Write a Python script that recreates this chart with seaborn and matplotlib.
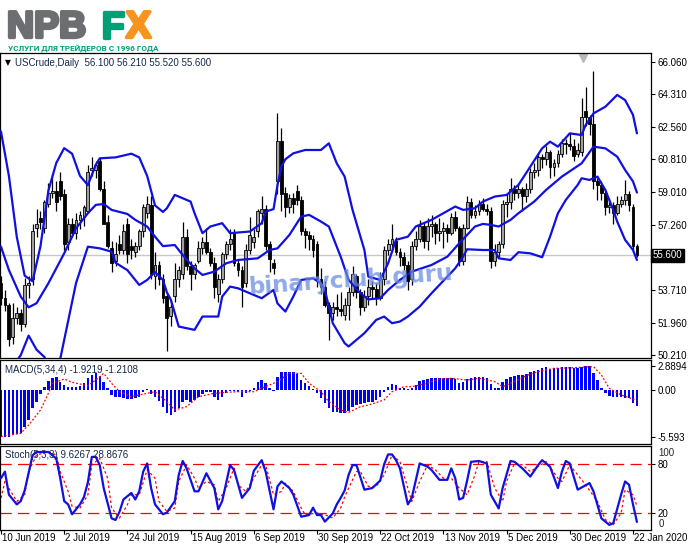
import matplotlib
matplotlib.use("Agg")
import matplotlib.pyplot as plt
import matplotlib.transforms as mtransforms
import matplotlib.patheffects as pe
import seaborn as sns

# ---- price data, one value per daily bar (10 Jun 2019 .. 23 Jan 2020)
opens = [54.1, 53.3, 52.9, 51.2, 52.2, 52.5, 51.9, 54.0, 54.3, 57.1,
         57.6, 57.1, 58.4, 59.0, 59.1, 59.6, 58.9, 56.3, 57.3, 56.8,
         57.5, 57.7, 58.0, 60.2, 60.2, 60.7, 59.2, 57.4, 56.0, 55.3,
         56.2, 55.9, 57.3, 56.1, 55.8, 56.1, 56.9, 57.9, 58.3, 54.5,
         55.1, 54.3, 53.4, 52.3, 53.4, 54.3, 54.6, 56.6, 55.0, 54.6,
         55.3, 56.0, 56.3, 55.8, 55.2, 53.5, 54.3, 55.7, 56.2, 56.8,
         55.2, 54.8, 54.1, 55.9, 56.3, 56.9, 57.9, 58.1, 56.2, 55.2,
         59.6, 61.8, 59.0, 58.2, 58.7, 59.1, 58.6, 56.9, 56.7, 56.5,
         56.2, 54.3, 53.9, 52.9, 52.5, 52.8, 52.7, 52.4, 52.9, 53.6,
         54.5, 53.6, 52.8, 53.4, 53.9, 53.8, 53.3, 54.3, 55.9, 56.2,
         56.4, 55.8, 55.5, 55.1, 54.3, 56.1, 56.5, 57.2, 56.4, 57.2,
         57.3, 56.8, 56.9, 57.1, 56.8, 57.7, 57.1, 55.3, 57.1, 58.5,
         57.8, 58.0, 58.4, 58.1, 58.0, 55.3, 55.8, 56.2, 58.4, 58.5,
         59.2, 59.0, 59.2, 58.8, 59.2, 60.1, 60.2, 60.9, 60.8, 61.2,
         60.4, 60.6, 61.1, 61.7, 61.6, 61.5, 61.1, 61.2, 63.4, 63.1,
         62.7, 59.6, 59.4, 59.0, 58.2, 58.3, 57.9, 58.4, 58.6, 58.9,
         58.2, 56.10]
highs = [54.5, 53.7, 53.0, 53.0, 52.8, 52.7, 54.4, 54.5, 57.3, 58.1,
         58.0, 58.6, 59.5, 60.0, 59.6, 60.1, 59.2, 57.6, 57.6, 57.9,
         58.0, 58.3, 60.5, 60.9, 60.7, 60.9, 59.6, 57.8, 56.4, 56.3,
         56.7, 57.3, 57.6, 56.5, 56.3, 57.0, 58.4, 58.8, 58.8, 55.8,
         55.3, 54.6, 53.6, 53.2, 55.2, 55.0, 57.4, 57.0, 55.3, 55.2,
         56.4, 56.6, 57.1, 56.0, 55.5, 54.6, 55.8, 56.4, 57.0, 57.0,
         55.4, 55.0, 56.2, 57.7, 57.0, 58.1, 58.8, 58.3, 56.4, 55.4,
         63.3, 62.5, 59.3, 58.9, 59.0, 59.4, 58.8, 57.1, 56.9, 56.7,
         56.4, 54.9, 54.2, 53.1, 53.1, 53.5, 53.6, 53.3, 53.9, 55.0,
         54.6, 53.8, 53.7, 54.3, 54.2, 54.1, 54.7, 56.1, 56.5, 57.3,
         56.6, 56.0, 55.8, 55.3, 56.4, 56.9, 57.5, 57.4, 57.6, 57.8,
         57.4, 57.6, 57.4, 57.3, 57.9, 58.0, 57.2, 57.3, 58.8, 58.7,
         58.3, 58.6, 58.7, 58.4, 58.2, 56.2, 56.4, 58.6, 59.0, 59.8,
         59.4, 59.5, 59.3, 59.5, 60.3, 60.6, 61.1, 61.1, 61.5, 61.3,
         60.8, 61.3, 61.9, 61.9, 62.2, 61.9, 61.7, 64.1, 64.7, 63.2,
         65.6, 59.8, 59.6, 59.2, 58.7, 58.5, 58.8, 58.8, 59.7, 59.1,
         58.4, 56.21]
lows = [52.9, 52.6, 50.7, 50.8, 51.9, 51.5, 51.7, 53.3, 54.0, 56.6,
        57.0, 56.8, 58.2, 58.7, 58.0, 58.6, 55.9, 55.9, 56.6, 56.5,
        57.0, 57.2, 57.9, 59.9, 59.8, 59.1, 57.3, 56.0, 54.7, 55.0,
        55.7, 55.7, 55.2, 55.4, 55.5, 55.9, 56.6, 57.6, 54.3, 53.8,
        54.0, 53.0, 50.4, 51.8, 53.1, 53.9, 54.3, 54.8, 53.7, 54.3,
        55.2, 55.7, 55.7, 55.0, 53.3, 53.1, 54.1, 55.4, 55.9, 55.0,
        54.5, 52.8, 53.9, 55.7, 56.0, 56.6, 57.3, 55.9, 54.7, 54.6,
        58.9, 58.0, 57.7, 57.9, 57.9, 58.3, 56.7, 56.0, 55.9, 55.5,
        53.9, 53.5, 52.8, 51.0, 52.1, 52.3, 52.3, 52.1, 52.1, 53.4,
        53.3, 52.4, 52.6, 52.9, 53.3, 52.9, 53.2, 54.0, 55.6, 55.8,
        55.6, 55.0, 54.8, 53.7, 54.0, 55.9, 56.3, 56.0, 55.9, 56.6,
        56.2, 56.4, 56.0, 56.3, 56.7, 56.9, 55.0, 55.1, 57.0, 57.6,
        57.6, 57.8, 58.0, 57.8, 54.9, 55.0, 55.5, 56.0, 57.7, 58.1,
        58.6, 58.7, 58.0, 58.5, 59.0, 59.8, 59.9, 60.3, 60.5, 59.8,
        59.9, 60.4, 60.9, 61.1, 61.3, 60.7, 60.9, 61.0, 62.6, 62.1,
        59.2, 58.6, 58.6, 57.8, 57.9, 57.3, 57.8, 58.2, 58.3, 58.0,
        55.9, 55.52]
closes = [53.3, 52.9, 51.1, 52.2, 52.5, 51.9, 54.0, 54.1, 56.9, 57.3,
          57.4, 58.5, 59.0, 59.1, 58.5, 58.8, 56.2, 57.3, 56.8, 57.5,
          57.8, 58.2, 60.1, 60.3, 60.5, 59.2, 57.3, 56.1, 55.2, 55.7,
          55.9, 56.9, 55.7, 55.9, 56.1, 56.9, 58.2, 58.4, 54.6, 55.1,
          54.3, 53.3, 52.2, 52.8, 54.3, 54.8, 56.6, 55.0, 54.6, 55.1,
          56.0, 56.3, 55.8, 55.2, 53.9, 54.3, 55.7, 56.2, 56.5, 55.2,
          54.8, 53.9, 55.9, 56.7, 56.6, 58.0, 58.1, 56.1, 55.4, 54.9,
          61.8, 58.9, 58.2, 58.7, 58.4, 58.6, 56.9, 56.7, 56.5, 55.9,
          54.3, 53.9, 52.9, 52.5, 52.8, 52.7, 52.6, 52.9, 53.6, 54.6,
          53.6, 52.8, 53.4, 53.9, 53.8, 53.3, 54.3, 55.9, 56.2, 56.5,
          55.8, 55.5, 55.1, 54.2, 56.1, 56.5, 57.2, 56.4, 57.2, 57.3,
          56.8, 56.9, 57.1, 56.8, 57.7, 57.1, 55.3, 57.1, 58.5, 57.8,
          58.0, 58.4, 58.1, 58.0, 55.3, 55.8, 56.2, 58.4, 58.5, 59.2,
          59.0, 59.2, 58.8, 59.2, 60.1, 60.2, 60.9, 60.8, 61.2, 60.4,
          60.6, 61.1, 61.7, 61.6, 61.5, 61.0, 61.3, 63.1, 63.1, 62.7,
          59.6, 59.4, 59.0, 58.2, 58.3, 57.9, 58.4, 58.6, 58.9, 58.3,
          56.1, 55.60]

# Bollinger bands: (bar, value)
bb_upper = [(0, 62.3), (2, 59.9), (4, 56.6), (6, 54.5), (8, 54.2), (10, 56.1),
            (12, 59.1), (14, 60.6), (16, 61.4), (18, 61.1), (20, 59.9), (22, 59.4),
            (24, 60.5), (25, 60.85), (29, 60.9), (33, 61.1), (35, 60.9), (37, 59.9),
            (39, 58.3), (41, 57.95), (42, 58.15), (44, 58.87), (48, 58.51), (49, 57.88),
            (51, 56.8), (53, 57.16), (56, 57.34), (58, 56.8), (63, 56.89), (66, 57.34),
            (67, 57.97), (69, 58.1), (70, 59.4), (71, 60.4), (72, 60.8), (74, 61.12),
            (77, 61.3), (81, 61.3), (83, 61.66), (85, 60.58), (87, 59.86), (89, 58.06),
            (92, 55.89), (93, 54.45), (96, 54.27), (98, 55.17), (100, 56.44), (103, 56.61),
            (105, 57.16), (109, 57.52), (115, 58.24), (117, 58.06), (120, 58.15),
            (122, 58.51), (125, 58.78), (128, 58.87), (131, 59.41), (134, 60.4),
            (137, 61.39), (139, 61.75), (141, 61.48), (144, 62.2), (147, 62.11),
            (148, 62.65), (150, 63.28), (153, 63.64), (156, 64.28), (158, 64.0),
            (160, 63.2), (161, 62.2)]
bb_middle = [(0, 56.07), (2, 54.81), (5, 53.37), (7, 52.79), (9, 53.01), (12, 54.09),
             (16, 55.71), (19, 57.06), (22, 57.88), (24, 58.33), (26, 58.38), (28, 58.06),
             (32, 57.84), (34, 57.52), (37, 57.16), (39, 56.61), (41, 56.1), (44, 56.16),
             (46, 55.62), (49, 54.9), (51, 54.54), (54, 54.72), (57, 55.17), (60, 55.35),
             (65, 55.44), (68, 55.89), (70, 55.98), (73, 56.7), (76, 57.7), (78, 57.79),
             (81, 57.43), (83, 57.16), (86, 55.53), (88, 54.27), (91, 53.55), (93, 53.22),
             (96, 53.28), (98, 53.73), (101, 54.27), (104, 54.72), (109, 55.08),
             (113, 55.53), (116, 56.25), (120, 57.16), (122, 57.3), (124, 57.25),
             (126, 57.16), (129, 57.52), (131, 57.88), (135, 58.51), (138, 59.14),
             (142, 59.86), (147, 60.58), (150, 61.48), (153, 61.39), (156, 60.94),
             (158, 60.22), (160, 59.6), (161, 59.0)]
bb_lower = [(0, 49.5), (4, 49.9), (5, 50.2), (7, 51.26), (9, 50.5), (11, 50.1),
            (13, 49.0), (15, 50.0), (19, 54.1), (22, 56.07), (25, 55.98), (28, 55.8),
            (29, 55.2), (32, 54.8), (35, 54.0), (37, 54.27), (39, 54.7), (41, 54.27),
            (42, 53.6), (43, 53.2), (45, 51.75), (49, 51.57), (51, 52.29), (55, 52.29),
            (56, 53.37), (58, 53.91), (60, 53.82), (66, 53.28), (69, 53.73), (70, 53.0),
            (72, 52.56), (74, 53.37), (76, 54.27), (79, 54.36), (81, 54.09), (82, 53.73),
            (84, 51.93), (87, 50.85), (88, 50.67), (92, 51.39), (95, 52.11), (97, 52.29),
            (99, 51.93), (101, 52.02), (103, 52.29), (106, 52.83), (109, 53.55),
            (113, 54.45), (115, 54.9), (117, 55.53), (118, 55.93), (122, 55.89),
            (125, 55.89), (126, 55.44), (129, 55.35), (131, 55.77), (134, 55.71),
            (137, 55.5), (139, 56.61), (141, 57.88), (143, 58.6), (146, 59.41),
            (147, 59.77), (149, 59.68), (151, 59.86), (153, 59.14), (155, 58.06),
            (156, 57.43), (158, 56.44), (160, 55.89), (161, 55.35)]

# MACD(5,34,4) histogram, one value per bar
macd_hist = [-5.52, -5.59, -5.52, -5.33, -5.25, -5.13, -4.34, -3.55, -2.17, -1.38,
             -0.51, 0.39, 1.07, 1.38, 1.50, 0.91, 0.59, 0.39, 0.32, 0.39,
             0.51, 0.79, 1.38, 1.78, 1.97, 1.70, 0.99, 0.20, -0.59, -0.79,
             -0.87, -0.91, -1.07, -1.07, -0.99, -0.79, -0.28, 0.12, -0.51, -0.79,
             -1.30, -1.97, -2.76, -2.96, -2.64, -2.17, -1.38, -1.18, -1.38, -1.18,
             -0.79, -0.51, -0.28, -0.20, -0.79, -1.18, -0.79, -0.39, -0.12, -0.12,
             -0.28, -0.79, -0.39, -0.12, 0.28, 0.99, 1.18, 0.79, 0.20, -0.12,
             1.58, 2.09, 2.17, 2.09, 2.09, 1.85, 1.18, 0.79, 0.47, 0.12,
             -0.39, -0.99, -1.58, -2.17, -2.56, -2.64, -2.76, -2.72, -2.49, -1.97,
             -1.78, -1.70, -1.58, -1.46, -1.38, -1.18, -0.79, -0.20, 0.39, 0.67,
             0.59, 0.28, 0.20, 0.12, 0.28, 0.59, 1.07, 1.18, 1.30, 1.46,
             1.46, 1.46, 1.46, 1.46, 1.38, 1.30, 0.79, 0.99, 1.30, 1.46,
             1.58, 1.58, 1.58, 1.46, 0.67, 0.28, 0.20, 0.91, 1.30, 1.58,
             1.70, 1.78, 1.78, 1.85, 2.09, 2.25, 2.37, 2.56, 2.76, 2.49,
             2.56, 2.64, 2.72, 2.76, 2.76, 2.64, 2.64, 2.76, 2.85, 2.89,
             1.97, 1.18, 0.28, -0.39, -0.67, -0.79, -0.79, -0.79, -0.91, -0.99,
             -1.50, -1.92]
macd_signal = [(0, -5.5), (5, -5.13), (7, -4.14), (10, -2.37), (12, -0.39), (13, 0.79),
               (16, 1.30), (18, 0.91), (22, 0.51), (24, 1.18), (26, 1.97), (28, 0.79),
               (30, -0.20), (33, -0.79), (37, -0.39), (39, -0.20), (42, -1.38), (44, -2.37),
               (47, -1.97), (50, -0.79), (54, -0.39), (57, -0.28), (60, -0.20), (64, -0.20),
               (66, 0.20), (70, 0.99), (73, 1.97), (76, 1.97), (78, 0.79), (81, -0.20),
               (83, -1.38), (86, -2.37), (88, -2.65), (91, -1.97), (93, -1.78), (97, -1.18),
               (99, -0.20), (102, 0.39), (104, 0.39), (108, 0.79), (111, 1.30), (114, 1.38),
               (118, 1.18), (121, 1.38), (125, 0.99), (127, 0.39), (130, 0.99), (133, 1.70),
               (136, 2.17), (140, 2.56), (145, 2.64), (150, 2.76), (152, 1.78), (154, 0.20),
               (157, -0.59), (159, -0.91), (161, -1.21)]

# Stochastic(5,3,3) main and signal lines
stoch_k = [(0, 63), (1, 71), (2, 43), (4, 31), (5, 35), (6, 48), (8, 91), (9, 95),
           (12, 95), (14, 87), (15, 63), (16, 35), (17, 31), (18, 19), (20, 31), (21, 40),
           (22, 58), (23, 89), (24, 89), (25, 79), (26, 51), (28, 14), (29, 12), (30, 22),
           (31, 37), (33, 45), (34, 37), (35, 47), (36, 71), (37, 81), (38, 51), (39, 31),
           (41, 19), (42, 21), (44, 35), (45, 67), (46, 84), (47, 75), (49, 47), (50, 47),
           (52, 69), (54, 51), (55, 25), (56, 35), (58, 79), (59, 73), (61, 39), (63, 51),
           (64, 72), (66, 85), (67, 71), (69, 25), (70, 53), (71, 59), (73, 51), (74, 43),
           (76, 16), (78, 18), (79, 27), (80, 18), (81, 18), (82, 10), (84, 20), (85, 31),
           (86, 39), (87, 48), (88, 67), (89, 79), (90, 79), (92, 49), (94, 51), (96, 60),
           (97, 80), (98, 92), (99, 92), (100, 85), (101, 75), (103, 31), (104, 39),
           (106, 81), (108, 77), (109, 73), (111, 61), (113, 61), (114, 75), (115, 63),
           (116, 37), (117, 39), (118, 60), (119, 83), (121, 84), (123, 81), (124, 43),
           (126, 26), (127, 51), (129, 84), (130, 83), (132, 75), (134, 65), (136, 79),
           (137, 85), (139, 77), (141, 51), (142, 71), (143, 84), (144, 81), (146, 49),
           (149, 57), (150, 47), (152, 14), (154, 6), (155, 8), (157, 43), (158, 59),
           (159, 55), (160, 31), (161, 9.63)]
stoch_d = [(0, 38.7), (1, 59), (3, 42.8), (4, 34.7), (6, 42.8), (7, 71.1), (9, 91.3),
           (12, 95.4), (14, 91.3), (15, 71.1), (17, 46.8), (18, 28.6), (20, 26.6),
           (22, 42.8), (23, 79.2), (25, 87.3), (27, 63), (28, 26.6), (30, 14.4), (32, 30.6),
           (33, 42.8), (35, 42.8), (37, 73.1), (39, 63), (40, 34.7), (42, 22.5), (44, 26.6),
           (45, 59), (47, 79.2), (49, 63), (50, 50.9), (52, 59), (54, 54.9), (55, 34.7),
           (57, 50.9), (59, 75.2), (60, 54.9), (62, 46.8), (64, 63), (66, 79.2), (67, 79.2),
           (69, 42.8), (71, 46.8), (72, 56.9), (74, 46.8), (76, 26.6), (77, 18.4), (80, 20.5),
           (82, 18.4), (84, 14.4), (86, 26.6), (87, 40), (88, 50.9), (90, 71.1), (91, 71.1),
           (93, 52.9), (95, 52.9), (97, 67.1), (99, 91.3), (101, 83.3), (103, 50.9),
           (104, 34.7), (106, 59), (108, 79.2), (110, 73.1), (112, 63), (114, 63),
           (116, 50.9), (118, 42.8), (120, 67.1), (121, 83.3), (123, 83.3), (125, 50.9),
           (127, 34.7), (128, 59), (130, 81.3), (132, 79.2), (134, 71.1), (136, 77.2),
           (138, 83.3), (141, 63), (142, 59), (144, 79.2), (146, 67.1), (148, 54.9),
           (151, 34.7), (153, 12.4), (155, 6.3), (157, 20.5), (158, 48.8), (160, 42.8),
           (161, 28.87)]

date_labels = ["10 Jun 2019", "2 Jul 2019", "24 Jul 2019", "15 Aug 2019", "6 Sep 2019",
               "30 Sep 2019", "22 Oct 2019", "13 Nov 2019", "5 Dec 2019", "30 Dec 2019",
               "22 Jan 2020"]
date_bars = [0, 16, 32, 48, 64, 80, 96, 112, 128, 144, 160]
price_ticks = [66.060, 64.310, 62.560, 60.810, 59.010, 57.260, 53.710, 51.960, 50.210]
last_price = 55.600

sns.set_theme(style="white")
plt.rcParams["font.family"] = ["Liberation Sans", "DejaVu Sans"]
plt.rcParams["axes.linewidth"] = 0.9

W, H = 691, 549
fig = plt.figure(figsize=(W / 100, H / 100), dpi=100)
fig.patch.set_facecolor("white")


def px_axes(top, bottom):
    return fig.add_axes([0.0, 1 - bottom / H, 651 / W, (bottom - top) / H])


ax = px_axes(53, 358)
ax_m = px_axes(360, 444)
ax_s = px_axes(446, 530)

band_blue = "#1010e0"
red = "#ff0000"
xlim = (-0.25, 164.56)

for a in (ax, ax_m, ax_s):
    a.set_xlim(*xlim)
    a.set_facecolor("white")
    for s in a.spines.values():
        s.set_color("black")
        s.set_linewidth(0.9)
    a.yaxis.tick_right()
    a.tick_params(axis="y", direction="out", length=3, width=0.8, colors="black",
                  labelsize=7, pad=2, right=True, left=False)
    a.tick_params(axis="x", bottom=False, labelbottom=False)
    a.grid(False)

# ---- main price panel
ax.set_ylim(50.048, 66.547)
ax.axhline(last_price, color="#c8c8c8", lw=1.0, zorder=1)

bars = list(range(len(closes)))
for i in bars:
    o, h, l, c = opens[i], highs[i], lows[i], closes[i]
    ax.vlines(i, l, h, color="black", lw=0.9, zorder=2)
    body = max(abs(c - o), 0.04)
    face = "#a0a0a0" if c >= o else "black"
    ax.bar(i, body, bottom=min(o, c), width=0.72, color=face, edgecolor="black",
           linewidth=0.6, zorder=3)

for band in (bb_upper, bb_middle, bb_lower):
    bx, by = zip(*band)
    sns.lineplot(x=list(bx), y=list(by), ax=ax, color=band_blue, lw=1.6, zorder=4)

ax.set_yticks(price_ticks)
ax.set_yticklabels([f"{v:.3f}" for v in price_ticks])
ax.text(1.003, last_price, f"{last_price:.3f}",
        transform=mtransforms.blended_transform_factory(ax.transAxes, ax.transData),
        ha="left", va="center", fontsize=7, color="white",
        bbox=dict(boxstyle="square,pad=0.15", fc="black", ec="black"))
ax.plot([583 / 651], [0.985], marker="v", ms=6, color="#b8b8b8",
        transform=ax.transAxes, clip_on=False)
ax.set_xlabel("")
ax.set_ylabel("")

# ---- MACD panel
ax_m.set_ylim(-6.39, 3.55)
ax_m.bar(bars, macd_hist, width=0.62, color="#0000ff", linewidth=0,
         antialiased=False, zorder=2)
sx, sy = zip(*macd_signal)
sns.lineplot(x=list(sx), y=list(sy), ax=ax_m, color=red, lw=0.9,
             linestyle=(0, (1.5, 1.5)), zorder=3)
ax_m.set_yticks([2.8894, 0.0, -5.593])
ax_m.set_yticklabels(["2.8894", "0.00", "-5.593"])
ax_m.set_xlabel("")
ax_m.set_ylabel("")

# ---- Stochastic panel
ax_s.set_ylim(-0.24, 102.3)
for lvl in (80, 20):
    ax_s.axhline(lvl, color=red, lw=0.9, linestyle=(0, (9, 5)), zorder=1)
kx, ky = zip(*stoch_k)
dx, dy = zip(*stoch_d)
sns.lineplot(x=list(dx), y=list(dy), ax=ax_s, color=red, lw=0.9,
             linestyle=(0, (2, 2)), zorder=2)
sns.lineplot(x=list(kx), y=list(ky), ax=ax_s, color=band_blue, lw=1.6, zorder=3)
ax_s.set_yticks([80, 20])
ax_s.set_yticklabels(["80", "20"])
ax_s.text(1.012, 0.917, "100", transform=ax_s.transAxes, fontsize=7, va="center")
ax_s.text(1.012, 0.07, "0", transform=ax_s.transAxes, fontsize=7, va="center")
ax_s.set_xticks(date_bars)
ax_s.tick_params(axis="x", bottom=True, direction="out", length=3, width=0.8,
                 colors="black", labelbottom=False)
date_tr = mtransforms.blended_transform_factory(ax_s.transData, ax_s.transAxes)
for b, lab in zip(date_bars, date_labels):
    ax_s.text(b + 0.3, -0.03, lab, transform=date_tr, ha="left", va="top",
              fontsize=7, color="black", clip_on=False)
ax_s.set_xlabel("")
ax_s.set_ylabel("")


# ---- header texts
def fpx(x, y):
    return x / W, 1 - y / H


hdr = "#16284a"
fig.text(*fpx(5, 63), "\u25bc", fontsize=5.5, color="black", va="center",
         family=["DejaVu Sans"])
fig.text(*fpx(15, 63), "USCrude,Daily  56.100 56.210 55.520 55.600", fontsize=7,
         color=hdr, va="center")
fig.text(*fpx(5, 370), "MACD(5,34,4) -1.9219 -1.2108", fontsize=7, color=hdr, va="center")
fig.text(*fpx(5, 455), "Stoch(5,3,3) 9.6267 28.8676", fontsize=7, color=hdr, va="center")

# ---- logo (heavy letters: bold text with a same-colour outline)
gray, green, orange = "#6d6e71", "#00a077", "#f7941d"
for txt, x0, col in (("NPB", 7, gray), ("F", 101, green), ("X", 126, orange)):
    fig.text(*fpx(x0, 37.5), txt, fontsize=27, weight="bold", color=col, va="baseline",
             path_effects=[pe.withStroke(linewidth=2.4, foreground=col)])
fig.text(*fpx(8, 50.5), "УСЛУГИ ДЛЯ ТРЕЙДЕРОВ С 1996 ГОДА", fontsize=5.9, weight="bold",
         color=green, va="baseline", family=["Roboto", "DejaVu Sans"])

# ---- watermark
fig.text(*fpx(350, 280), "binaryclub.guru", fontsize=16.5, weight="bold",
         color="#6a8ce0", alpha=0.75, rotation=4, ha="center", va="center",
         family=["DejaVu Sans"])

fig.savefig("out.png", dpi=100)
